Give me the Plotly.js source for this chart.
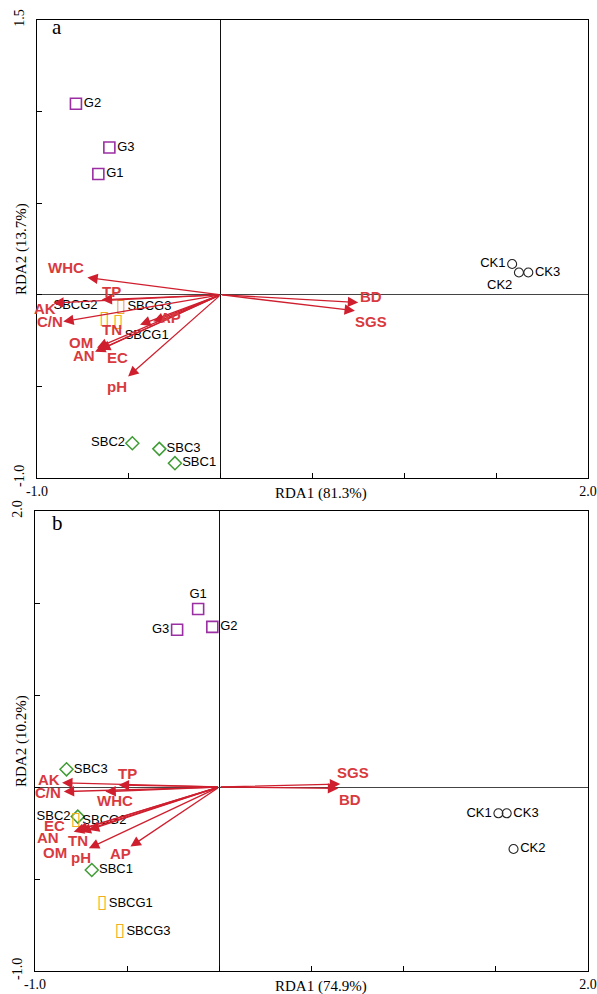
<!DOCTYPE html>
<html>
<head>
<meta charset="utf-8">
<script src="https://cdn.plot.ly/plotly-3.0.1.min.js"></script>
<style>html,body{margin:0;padding:0;background:#fff;}#chart{width:597px;height:994px;}</style>
</head>
<body>
<div id="chart"></div>
<script>
// ---------- DATA ----------
// Sample scores, panel a
const samples = ['G1','G2','G3','SBC1','SBC2','SBC3','SBCG1','SBCG2','SBCG3','CK1','CK2','CK3'];
const groups  = ['G','G','G','SBC','SBC','SBC','SBCG','SBCG','SBCG','CK','CK','CK'];
const aRDA1 = [-0.666,-0.788,-0.606, -0.249,-0.481,-0.334, -0.559,-0.634,-0.544, 1.587,1.624,1.675];
const aRDA2 = [ 0.659, 1.043, 0.804, -0.919,-0.810,-0.841, -0.151,-0.133,-0.067, 0.168,0.122,0.122];
// Sample scores, panel b
const bRDA1 = [-0.115,-0.038,-0.229, -0.692,-0.768,-0.829, -0.636,-0.779,-0.540, 1.514,1.596,1.559];
const bRDA2 = [ 0.967, 0.870, 0.855, -0.451,-0.161, 0.096, -0.632,-0.183,-0.786,-0.143,-0.337,-0.143];

// Environmental variable vectors
const envVars = ['WHC','TP','AK','C/N','AP','TN','OM','AN','EC','pH','BD','SGS'];
const aEnv1 = [-0.726,-0.648,-0.911,-0.857,-0.367,-0.439,-0.673,-0.684,-0.657,-0.504, 0.749, 0.731];
const aEnv2 = [ 0.094,-0.027,-0.045,-0.146,-0.146,-0.164,-0.289,-0.311,-0.300,-0.446,-0.042,-0.087];
const bEnv1 = [-0.618,-0.546,-0.853,-0.844,-0.482,-0.708,-0.753,-0.790,-0.771,-0.708, 0.645, 0.656];
const bEnv2 = [-0.025, 0.011, 0.023,-0.025,-0.324,-0.234,-0.243,-0.243,-0.234,-0.333,-0.008, 0.016];

const axisTitles = {a:['RDA1 (81.3%)','RDA2 (13.7%)'], b:['RDA1 (74.9%)','RDA2 (10.2%)']};
const xTickVals = [-1,-0.5,0,0.5,1,1.5,2];
const xTickText = ['-1.0','','','','','','2.0'];
const yTickVals = [-1,-0.5,0,0.5,1,1.5];
const aYTickText = ['-1.0','','','','','1.5'];
const bYTickText = ['-1.0','','','','','2.0'];

// ---------- STYLE ----------
const SANS = 'Liberation Sans, Arial, sans-serif';
const SERIF = 'Liberation Serif, Times New Roman, serif';
const ARROW = '#cf1f2e';
const LABEL = '#d83a40';
const groupStyle = {
  G:   {symbol:'square-open',  size:11, color:'#9a2ea2', width:1.6},
  SBC: {symbol:'diamond-open', size:10, color:'#3f9c34', width:1.5},
  CK:  {symbol:'circle-open',  size:9,  color:'#222222', width:1.1}
};
// label positions (text positions for samples)
const aPos = {G1:'middle right',G2:'middle right',G3:'middle right',SBC1:'middle right',SBC2:'middle left',SBC3:'middle right',
  SBCG1:'bottom right',SBCG2:'top left',SBCG3:'middle right',CK1:'middle left',CK2:'bottom left',CK3:'middle right'};
const bPos = {G1:'top center',G2:'middle right',G3:'middle left',SBC1:'middle right',SBC2:'middle left',SBC3:'middle right',
  SBCG1:'middle right',SBCG2:'middle right',SBCG3:'middle right',CK1:'middle left',CK2:'middle right',CK3:'middle right'};
// env label pixel offsets [dx, dy(down)]
const aOff = {WHC:[-21,-10],TP:[10,-8],AK:[-8,5],'C/N':[-13,0],AP:[17,-4],TN:[-28,5],OM:[-16,-5],AN:[-11,4],EC:[17,8],pH:[-11,10],BD:[13,-6],SGS:[16,11]};
const bOff = {WHC:[10,9],TP:[9,-11],AK:[-13,-3],'C/N':[-16,1],AP:[-10,7],TN:[-11,10],OM:[-26,21],AN:[-26,6],EC:[-23,-5],pH:[-8,9],BD:[12,11],SGS:[13,-12]};

function sampleTraces(x, y, xa, ya, pos){
  const traces = [];
  ['G','SBC','CK'].forEach(g=>{
    const idx = groups.map((v,i)=>v===g?i:-1).filter(i=>i>=0);
    const st = groupStyle[g];
    traces.push({type:'scatter', mode:'markers+text', xaxis:xa, yaxis:ya,
      x: idx.map(i=>x[i]), y: idx.map(i=>y[i]), text: idx.map(i=>samples[i]),
      textposition: idx.map(i=>pos[samples[i]]),
      textfont:{family:SANS,size:13,color:'#000'},
      marker:{symbol:st.symbol,size:st.size,color:st.color,line:{width:st.width,color:st.color}},
      hoverinfo:'skip', cliponaxis:false});
  });
  const idx = groups.map((v,i)=>v==='SBCG'?i:-1).filter(i=>i>=0);
  traces.push({type:'scatter', mode:'text', xaxis:xa, yaxis:ya,
    x: idx.map(i=>x[i]), y: idx.map(i=>y[i]), text: idx.map(()=>'\u25AF'),
    textposition:'middle center', textfont:{family:'DejaVu Sans',size:19,color:'#efad22'}, hoverinfo:'skip'});
  traces.push({type:'scatter', mode:'markers+text', xaxis:xa, yaxis:ya,
    x: idx.map(i=>x[i]), y: idx.map(i=>y[i]), text: idx.map(i=>samples[i]),
    textposition: idx.map(i=>pos[samples[i]]),
    textfont:{family:SANS,size:13,color:'#000'},
    marker:{size:9,opacity:0}, hoverinfo:'skip'});
  return traces;
}

function envAnnotations(e1, e2, xr, yr, off){
  const ann = [];
  envVars.forEach((v,i)=>{
    ann.push({x:e1[i], y:e2[i], ax:0, ay:0, xref:xr, yref:yr, axref:xr, ayref:yr,
      showarrow:true, text:'', arrowhead:2, arrowsize:1.6, arrowwidth:1.3, arrowcolor:ARROW, standoff:0});
  });
  envVars.forEach((v,i)=>{
    ann.push({x:e1[i], y:e2[i], xref:xr, yref:yr, text:v, showarrow:false,
      xshift:off[v][0], yshift:-off[v][1],
      font:{family:SANS,size:15,color:LABEL,weight:700}});
  });
  return ann;
}

const data = [].concat(
  sampleTraces(aRDA1, aRDA2, 'x', 'y', aPos),
  sampleTraces(bRDA1, bRDA2, 'x2', 'y2', bPos)
);

function xAxis(domain, anchor){
  return {domain:domain, anchor:anchor, range:[-1,2], showgrid:false, zeroline:true, zerolinecolor:'#111', zerolinewidth:1,
    showline:true, mirror:true, linecolor:'#000', linewidth:1.2, ticks:'inside', ticklen:5, tickcolor:'#000',
    tickvals:xTickVals, ticktext:xTickText, tickfont:{family:SERIF,size:14,color:'#000'}, fixedrange:true};
}
function yAxis(domain, anchor, ttext){
  return {domain:domain, anchor:anchor, range:[-1,1.5], showgrid:false, zeroline:true, zerolinecolor:'#444', zerolinewidth:1,
    showline:true, mirror:true, linecolor:'#000', linewidth:1.2, ticks:'inside', ticklen:5, tickcolor:'#000',
    tickvals:yTickVals, ticktext:ttext, tickangle:-90, ticklabelstandoff:6,
    tickfont:{family:SERIF,size:14,color:'#000'}, fixedrange:true};
}

const titleFont = {family:SERIF,size:15,color:'#000'};
const annotations = [].concat(
  envAnnotations(aEnv1, aEnv2, 'x', 'y', aOff),
  envAnnotations(bEnv1, bEnv2, 'x2', 'y2', bOff),
  [
    {xref:'paper',yref:'paper',x:321/597,y:(994-493)/994,text:axisTitles.a[0],showarrow:false,font:titleFont,xanchor:'center',yanchor:'middle'},
    {xref:'paper',yref:'paper',x:21/597,y:(994-249)/994,text:axisTitles.a[1],showarrow:false,font:titleFont,textangle:-90,xanchor:'center',yanchor:'middle'},
    {xref:'paper',yref:'paper',x:321/597,y:(994-986)/994,text:axisTitles.b[0],showarrow:false,font:titleFont,xanchor:'center',yanchor:'middle'},
    {xref:'paper',yref:'paper',x:21/597,y:(994-741)/994,text:axisTitles.b[1],showarrow:false,font:titleFont,textangle:-90,xanchor:'center',yanchor:'middle'},
    {xref:'paper',yref:'paper',x:57/597,y:(994-27)/994,text:'a',showarrow:false,font:{family:SERIF,size:21,color:'#000'},xanchor:'center',yanchor:'middle'},
    {xref:'paper',yref:'paper',x:57/597,y:(994-523)/994,text:'b',showarrow:false,font:{family:SERIF,size:21,color:'#000'},xanchor:'center',yanchor:'middle'}
  ]
);

const layout = {
  width:597, height:994, margin:{l:0,r:0,t:0,b:0}, paper_bgcolor:'#fff', plot_bgcolor:'#fff',
  showlegend:false, hovermode:false,
  xaxis: xAxis([37/597, 588/597], 'y'),
  yaxis: yAxis([(994-478)/994, (994-20)/994], 'x', aYTickText),
  xaxis2: xAxis([35/597, 588/597], 'y2'),
  yaxis2: yAxis([(994-971)/994, (994-511)/994], 'x2', bYTickText),
  annotations: annotations
};

Plotly.newPlot('chart', data, layout, {staticPlot:true, displayModeBar:false});
</script>
</body>
</html>
